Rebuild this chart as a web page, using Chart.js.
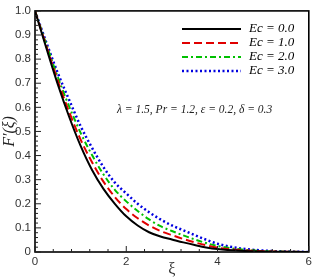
<!DOCTYPE html>
<html>
<head>
<meta charset="utf-8">
<script src="https://cdn.jsdelivr.net/npm/chart.js@4.4.1/dist/chart.umd.min.js"></script>
<style>
  html, body { margin: 0; padding: 0; background: #fff; }
  #wrap { width: 315px; height: 279px; }
</style>
</head>
<body>
<div id="wrap"><canvas id="myChart" width="315" height="279"></canvas></div>
<script>
// xi values and F'(xi) for each Eckert number
var xi = [0, 0.25, 0.5, 0.75, 1, 1.25, 1.5, 1.75, 2, 2.25, 2.5, 2.75, 3, 3.25, 3.5, 3.75, 4, 4.5, 5, 5.5, 6];
var ec0 = [1, 0.845, 0.695, 0.56, 0.44, 0.34, 0.262, 0.2, 0.148, 0.11, 0.082, 0.064, 0.052, 0.04, 0.029, 0.019, 0.012, 0.005, 0.002, 0.001, 0];
var ec1 = [1, 0.853, 0.71, 0.58, 0.466, 0.372, 0.292, 0.228, 0.178, 0.14, 0.11, 0.087, 0.07, 0.054, 0.04, 0.028, 0.018, 0.008, 0.003, 0.001, 0];
var ec2 = [1, 0.86, 0.725, 0.603, 0.494, 0.402, 0.322, 0.258, 0.21, 0.17, 0.135, 0.107, 0.087, 0.069, 0.052, 0.037, 0.025, 0.011, 0.004, 0.001, 0];
var ec3 = [1, 0.868, 0.742, 0.63, 0.522, 0.432, 0.352, 0.288, 0.243, 0.2, 0.165, 0.135, 0.11, 0.09, 0.07, 0.051, 0.034, 0.015, 0.006, 0.002, 0];
var seriesNames = ["Ec = 0.0", "Ec = 1.0", "Ec = 2.0", "Ec = 3.0"];
var xTicks = [0, 2, 4, 6];
var yTicks = [0, 0.1, 0.2, 0.3, 0.4, 0.5, 0.6, 0.7, 0.8, 0.9, 1];
var note = "\u03bb = 1.5, Pr = 1.2, \u03b5 = 0.2, \u03b4 = 0.3";

function pts(ys) {
  return xi.map(function (x, i) { return { x: x, y: ys[i] }; });
}

var styles = [
  { color: "#000000", dash: [], width: 2 },
  { color: "#e00000", dash: [8, 4], width: 2 },
  { color: "#00c000", dash: [6, 3, 2, 3], width: 2 },
  { color: "#0000e0", dash: [2, 2.5], width: 2.5 }
];
var allData = [ec0, ec1, ec2, ec3];

var datasets = allData.map(function (d, i) {
  return {
    label: seriesNames[i],
    data: pts(d),
    borderColor: styles[i].color,
    borderDash: styles[i].dash,
    borderWidth: styles[i].width,
    pointRadius: 0,
    fill: false,
    cubicInterpolationMode: "monotone"
  };
});

// frame, inward ticks, legend and note
var decor = {
  id: "decor",
  afterDraw: function (chart) {
    var ctx = chart.ctx, a = chart.chartArea;
    var sx = chart.scales.x, sy = chart.scales.y;
    ctx.save();
    ctx.strokeStyle = "#000";
    ctx.lineWidth = 1.6;
    ctx.setLineDash([]);
    ctx.strokeRect(a.left, a.top, a.right - a.left, a.bottom - a.top);
    ctx.lineWidth = 1;
    ctx.strokeStyle = "#222";
    // x ticks
    for (var k = 0; k <= 15; k++) {
      var v = k * 0.4;
      var px = sx.getPixelForValue(v);
      var len = (Math.abs(v / 2 - Math.round(v / 2)) < 1e-6) ? 6 : 3;
      ctx.beginPath();
      ctx.moveTo(px, a.bottom);
      ctx.lineTo(px, a.bottom - len);
      ctx.stroke();
    }
    // y ticks
    for (var j = 0; j <= 50; j++) {
      var w = j * 0.02;
      var py = sy.getPixelForValue(w);
      var l2 = (j % 5 === 0) ? 6 : 3;
      ctx.beginPath();
      ctx.moveTo(a.left, py);
      ctx.lineTo(a.left + l2, py);
      ctx.stroke();
    }
    // legend
    ctx.font = "italic 13px 'Liberation Serif', serif";
    ctx.textBaseline = "middle";
    ctx.fillStyle = "#000";
    var rows = [29, 43, 57, 71];
    for (var i = 0; i < seriesNames.length; i++) {
      ctx.strokeStyle = styles[i].color;
      ctx.lineWidth = styles[i].width;
      ctx.setLineDash(styles[i].dash);
      ctx.beginPath();
      ctx.moveTo(182, rows[i]);
      ctx.lineTo(241, rows[i]);
      ctx.stroke();
      ctx.fillText(seriesNames[i], 249, rows[i]);
    }
    ctx.setLineDash([]);
    ctx.font = "italic 11.5px 'Liberation Serif', serif";
    ctx.fillStyle = "#222";
    ctx.fillText(note, 117, 110);
    ctx.restore();
  }
};

new Chart("myChart", {
  type: "line",
  data: { datasets: datasets },
  options: {
    responsive: false,
    animation: false,
    layout: { padding: { left: 0, right: 3, top: 3, bottom: 0 } },
    plugins: { legend: { display: false }, tooltip: { enabled: false } },
    scales: {
      x: {
        type: "linear",
        min: 0,
        max: 6,
        afterFit: function (s) { s.height = 27; },
        afterBuildTicks: function (s) { s.ticks = xTicks.map(function (v) { return { value: v }; }); },
        grid: { display: false, drawTicks: false },
        border: { display: false },
        ticks: { padding: 3, color: "#333", font: { family: "Liberation Sans", size: 11.5 }, maxRotation: 0 },
        title: { display: true, text: "\u03be", color: "#333", font: { family: "Liberation Serif", size: 16 }, padding: { top: 0, bottom: 0 } }
      },
      y: {
        type: "linear",
        min: 0,
        max: 1,
        afterFit: function (s) { s.width = 35; },
        afterBuildTicks: function (s) { s.ticks = yTicks.map(function (v) { return { value: v }; }); },
        grid: { display: false, drawTicks: false },
        border: { display: false },
        ticks: { padding: 4, color: "#333", font: { family: "Liberation Sans", size: 11.5 } },
        title: { display: true, text: "F\u2032(\u03be)", color: "#222", font: { family: "Liberation Serif", size: 16, style: "italic" }, padding: { top: 0, bottom: 0 } }
      }
    }
  },
  plugins: [decor]
});
</script>
</body>
</html>
